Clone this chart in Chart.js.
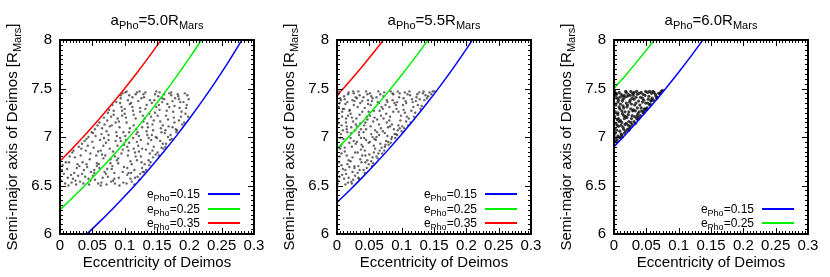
<!DOCTYPE html>
<html><head><meta charset="utf-8">
<script src="https://cdn.jsdelivr.net/npm/chart.js@4/dist/chart.umd.min.js"></script>
<style>
html,body{margin:0;padding:0;background:#fff;width:830px;height:277px;overflow:hidden;font-family:"Liberation Sans",Arial,sans-serif;color:#000}
.panel{position:absolute;top:0;width:277px;height:277px;overflow:visible}
.panel canvas{position:absolute;left:0;top:0}
.ptitle{position:absolute;left:60px;width:194px;top:11px;text-align:center;font-size:15px;line-height:17px;white-space:nowrap}
.sub{position:relative;top:4px;font-size:11px}
.ytitle{position:absolute;left:-118px;top:128px;width:260px;height:18px;line-height:18px;text-align:center;font-size:15px;transform:rotate(-90deg);white-space:nowrap}
.klab{position:absolute;left:100px;width:100px;text-align:right;font-size:12px;line-height:14px;height:14px;white-space:nowrap}
.klab .ks{position:relative;top:3px;font-size:9px}
.kline{position:absolute;left:208px;width:32px;height:2px}
</style>
</head><body>
<div class="panel" id="p1" style="left:0"></div>
<div class="panel" id="p2" style="left:277px"></div>
<div class="panel" id="p3" style="left:554px"></div>
<script>
// ---- axis ticks ----
const eccTicks = [0, 0.05, 0.1, 0.15, 0.2, 0.25, 0.3];
const eccTickLabels = ['0', '0.05', '0.1', '0.15', '0.2', '0.25', '0.3'];
const semiTicks = [6, 6.5, 7, 7.5, 8];
const semiTickLabels = ['6', '6.5', '7', '7.5', '8'];

// ---- panel titles / legend labels ----
const panelPhobosA = ['5.0', '5.5', '6.0'];
const legendEPho = ['0.15', '0.25', '0.35'];

// ---- Panel 1 (a_Pho = 5.0) scatter ----
const p1Ecc = [
0.002,0.004,0.006,0.008,0.003,0.009,
0.012,0.015,0.011,0.018,0.014,0.017,0.019,0.013,
0.021,0.024,0.027,0.022,0.029,0.025,0.023,0.028,0.026,0.020,
0.031,0.034,0.037,0.032,0.039,0.035,0.033,0.038,0.036,0.030,0.034,
0.041,0.044,0.047,0.042,0.049,0.045,0.043,0.048,0.046,0.040,0.044,0.047,0.041,
0.051,0.054,0.057,0.052,0.059,0.055,0.053,0.058,0.056,0.050,0.054,0.057,0.051,0.059,0.053,
0.061,0.064,0.067,0.062,0.069,0.065,0.063,0.068,0.066,0.060,0.064,0.067,0.061,0.069,0.063,0.065,0.068,
0.071,0.074,0.077,0.072,0.079,0.075,0.073,0.078,0.076,0.070,0.074,0.077,0.071,0.079,0.073,0.075,0.078,0.072,
0.081,0.084,0.087,0.082,0.089,0.085,0.083,0.088,0.086,0.080,0.084,0.087,0.081,0.089,0.083,0.085,0.088,0.082,0.086,0.080,
0.091,0.094,0.097,0.092,0.099,0.095,0.093,0.098,0.096,0.090,0.094,0.097,0.091,0.099,0.093,0.095,0.098,0.092,0.096,0.090,0.094,0.097,
0.101,0.104,0.107,0.102,0.109,0.105,0.103,0.108,0.106,0.100,0.104,0.107,0.101,0.109,0.103,0.105,0.108,0.102,0.106,0.100,0.104,0.107,0.103,
0.111,0.114,0.117,0.112,0.119,0.115,0.113,0.118,0.116,0.110,0.114,0.117,0.111,0.119,0.113,0.115,0.118,0.112,0.116,0.110,0.114,0.117,0.119,
0.121,0.124,0.127,0.122,0.129,0.125,0.123,0.128,0.126,0.120,0.124,0.127,0.121,0.129,0.123,0.125,0.128,0.122,0.126,0.120,0.124,0.127,
0.131,0.134,0.137,0.132,0.139,0.135,0.133,0.138,0.136,0.130,0.134,0.137,0.131,0.139,0.133,0.135,0.138,0.132,0.136,0.130,
0.141,0.144,0.147,0.142,0.149,0.145,0.143,0.148,0.146,0.140,0.144,0.147,0.141,0.149,0.143,0.145,0.148,0.142,
0.151,0.154,0.157,0.152,0.159,0.155,0.153,0.158,0.156,0.150,0.154,0.157,0.151,0.159,0.153,0.155,0.158,
0.161,0.164,0.167,0.162,0.169,0.165,0.163,0.168,0.166,0.160,0.164,0.167,0.161,0.169,0.163,
0.171,0.174,0.177,0.172,0.179,0.175,0.173,0.178,0.176,0.170,0.174,0.177,0.172,
0.181,0.184,0.187,0.182,0.189,0.185,0.183,0.188,0.186,0.180,0.184,
0.191,0.194,0.197,0.192,0.199,0.195,0.193,0.198,0.196
];
const p1Semi = [
6.55,6.71,6.62,6.52,6.66,6.74,
6.58,6.80,6.67,6.53,6.74,6.61,6.84,6.50,
6.86,6.55,6.72,6.63,6.90,6.51,6.79,6.60,6.68,6.57,
6.54,6.93,6.66,6.81,6.59,6.74,6.88,6.96,6.52,6.70,6.62,
6.98,6.57,6.83,6.69,7.05,6.51,6.91,6.64,6.77,6.86,7.00,6.55,6.72,
6.60,7.08,6.73,6.89,6.52,7.01,6.66,7.12,6.81,6.95,6.56,6.70,7.04,6.85,6.63,
7.15,6.53,6.78,6.97,6.64,7.09,6.86,7.20,6.58,6.72,7.03,6.91,6.68,7.13,6.50,6.82,6.99,
6.62,7.25,6.88,7.06,6.54,6.97,7.17,6.73,7.28,6.81,6.59,7.11,6.94,7.21,6.67,7.02,6.77,6.51,
7.33,6.63,7.05,6.85,7.19,6.52,7.27,6.76,6.96,7.12,6.57,7.36,6.70,6.91,7.23,6.80,7.01,6.55,7.15,6.67,
6.58,7.40,6.87,7.10,6.69,7.31,6.99,6.53,7.22,6.78,7.43,6.64,7.16,6.92,7.35,6.83,7.05,6.50,7.27,6.73,6.96,7.45,
7.46,6.61,6.94,7.20,6.75,7.38,6.52,7.09,6.86,7.29,6.68,7.43,7.01,6.57,7.15,6.81,7.34,6.97,6.63,7.24,6.90,7.05,7.47,
6.54,7.12,6.80,7.41,6.95,6.66,7.27,7.03,6.58,7.35,6.88,7.19,6.72,7.46,6.99,6.51,7.08,7.31,6.84,6.63,7.23,7.44,6.76,
7.37,6.62,7.10,6.85,7.44,6.97,6.56,7.22,6.74,7.05,7.30,6.68,6.91,7.16,7.47,6.80,6.64,7.01,7.40,6.59,7.26,6.88,
6.72,7.33,6.99,7.46,6.83,7.14,6.66,7.24,6.93,7.41,7.06,6.76,7.19,7.38,6.87,7.02,6.71,7.29,7.10,6.64,
7.21,6.79,7.44,7.02,7.31,6.90,7.13,6.82,7.38,6.74,7.07,7.25,6.97,7.47,6.86,7.17,7.00,7.35,
6.84,7.28,7.05,7.42,6.93,7.16,6.81,7.36,7.09,6.99,7.46,6.89,7.22,7.12,7.33,6.96,7.40,
7.39,6.93,7.18,7.04,7.45,7.27,6.90,7.11,7.34,6.88,7.22,7.00,7.44,7.31,7.07,
7.02,7.37,7.15,7.43,7.08,7.26,6.98,7.40,7.20,6.97,7.10,7.32,7.46,
7.07,7.39,7.21,7.44,7.13,7.30,7.42,7.26,7.36,7.05,7.17,
7.36,7.24,7.43,7.15,7.39,7.30,7.45,7.21,7.33
];

// ---- Panel 2 (a_Pho = 5.5) scatter ----
const p2Ecc = [
0.001,0.003,0.005,0.007,0.009,0.002,0.004,0.006,0.008,0.000,0.001,0.003,0.005,0.007,0.009,0.002,0.004,0.006,0.008,0.001,0.003,0.005,0.007,0.009,0.002,0.004,0.006,0.008,
0.011,0.013,0.015,0.017,0.019,0.012,0.014,0.016,0.018,0.010,0.011,0.013,0.015,0.017,0.019,0.012,0.014,0.016,0.018,0.011,0.013,0.015,0.017,0.019,0.012,0.014,0.016,0.018,
0.021,0.023,0.025,0.027,0.029,0.022,0.024,0.026,0.028,0.020,0.021,0.023,0.025,0.027,0.029,0.022,0.024,0.026,0.028,0.021,0.023,0.025,0.027,0.029,0.022,0.024,0.026,0.028,
0.031,0.033,0.035,0.037,0.039,0.032,0.034,0.036,0.038,0.030,0.031,0.033,0.035,0.037,0.039,0.032,0.034,0.036,0.038,0.031,0.033,0.035,0.037,0.039,0.032,0.034,0.036,
0.041,0.043,0.045,0.047,0.049,0.042,0.044,0.046,0.048,0.040,0.041,0.043,0.045,0.047,0.049,0.042,0.044,0.046,0.048,0.041,0.043,0.045,0.047,0.049,0.044,
0.051,0.053,0.055,0.057,0.059,0.052,0.054,0.056,0.058,0.050,0.051,0.053,0.055,0.057,0.059,0.052,0.054,0.056,0.058,0.051,0.053,0.055,0.057,
0.061,0.063,0.065,0.067,0.069,0.062,0.064,0.066,0.068,0.060,0.061,0.063,0.065,0.067,0.069,0.062,0.064,0.066,0.068,0.061,0.065,
0.071,0.073,0.075,0.077,0.079,0.072,0.074,0.076,0.078,0.070,0.071,0.073,0.075,0.077,0.079,0.072,0.074,0.076,0.078,
0.081,0.083,0.085,0.087,0.089,0.082,0.084,0.086,0.088,0.080,0.081,0.083,0.085,0.087,0.089,0.082,0.086,
0.091,0.093,0.095,0.097,0.099,0.092,0.094,0.096,0.098,0.090,0.091,0.093,0.095,0.097,0.094,
0.101,0.103,0.105,0.107,0.109,0.102,0.104,0.106,0.108,0.100,0.103,0.105,0.107,
0.111,0.113,0.115,0.117,0.119,0.112,0.114,0.116,0.118,0.110,
0.121,0.123,0.125,0.127,0.129,0.122,0.124,0.128,
0.131,0.133,0.135,0.137,0.139,0.134,
0.141,0.143,0.146,0.148,
0.151
];
const p2Semi = [
6.52,7.31,6.88,7.12,6.67,7.44,6.59,7.03,7.26,6.95,7.18,6.74,7.40,6.83,7.07,6.55,7.35,6.91,7.21,6.63,7.47,6.99,6.71,7.29,7.14,6.80,7.38,6.61,
7.42,6.66,7.08,6.53,7.27,6.89,7.15,6.72,7.46,6.98,6.57,7.34,6.81,7.22,6.94,7.39,6.62,7.05,6.76,7.29,6.51,7.11,7.44,6.69,6.85,7.19,7.36,6.58,
6.75,7.20,6.56,7.37,6.93,7.10,6.64,7.45,6.84,7.28,6.99,6.52,7.16,6.70,7.41,7.04,6.79,7.33,6.60,7.24,6.90,7.47,6.68,7.13,6.54,7.38,6.96,7.07,
7.11,6.58,7.43,6.87,7.26,6.63,7.02,7.35,6.74,7.19,6.95,7.47,6.66,7.08,6.81,7.31,6.57,7.14,6.92,7.40,6.70,7.23,6.99,7.37,6.84,7.05,6.77,
6.66,7.30,6.97,7.44,6.72,7.12,6.81,7.21,7.38,6.90,7.05,6.63,7.47,6.76,7.26,6.99,7.15,6.68,7.34,7.41,6.86,7.08,7.18,6.94,6.74,
7.22,6.75,7.40,6.91,7.07,7.33,6.70,7.16,6.98,6.82,7.45,7.03,6.79,7.27,6.88,7.11,7.37,6.73,7.20,6.95,7.42,7.00,6.84,
6.80,7.36,7.02,7.44,6.89,7.18,6.83,7.27,7.09,6.97,7.41,6.78,7.13,6.93,7.31,7.05,7.47,6.86,7.22,7.00,7.35,
7.06,6.86,7.33,7.15,6.95,7.42,6.90,7.24,7.01,6.83,7.29,7.46,6.92,7.38,7.10,7.19,7.04,6.96,7.36,
7.31,6.94,7.13,7.44,7.03,7.21,6.98,7.38,7.08,6.92,7.17,7.47,7.00,7.26,7.35,7.11,7.45,
7.03,7.36,7.12,7.45,7.22,7.29,7.07,7.41,7.17,6.99,7.33,7.02,7.26,7.09,7.47,
7.11,7.40,7.25,7.16,7.44,7.33,7.09,7.37,7.21,7.06,7.28,7.46,7.35,
7.19,7.43,7.27,7.36,7.21,7.47,7.15,7.39,7.31,7.12,
7.25,7.41,7.33,7.46,7.29,7.37,7.44,7.39,
7.32,7.45,7.38,7.43,7.40,7.47,
7.42,7.46,7.44,7.47,
7.47
];

// ---- Panel 3 (a_Pho = 6.0) scatter ----
const p3Ecc = [
0.001,0.004,0.007,0.002,0.009,0.005,0.000,0.008,0.003,0.006,0.002,0.005,0.008,0.001,0.006,0.009,0.004,0.000,0.007,0.003,0.001,0.006,0.003,0.008,0.005,0.002,0.009,0.004,0.007,0.000,0.003,0.006,0.001,0.008,0.005,
0.011,0.014,0.017,0.012,0.019,0.015,0.010,0.018,0.013,0.016,0.012,0.015,0.018,0.011,0.016,0.019,0.014,0.010,0.017,0.013,0.011,0.016,0.013,0.018,0.015,0.012,0.019,0.014,0.017,0.010,0.013,
0.021,0.024,0.027,0.022,0.029,0.025,0.020,0.028,0.023,0.026,0.022,0.025,0.028,0.021,0.026,0.029,0.024,0.020,0.027,0.023,0.021,0.026,0.023,0.028,0.025,0.022,
0.031,0.034,0.037,0.032,0.039,0.035,0.030,0.038,0.033,0.036,0.032,0.035,0.038,0.031,0.036,0.039,0.034,0.030,0.037,0.033,0.031,0.036,
0.041,0.044,0.047,0.042,0.049,0.045,0.040,0.048,0.043,0.046,0.042,0.045,0.048,0.041,0.046,0.049,0.044,
0.051,0.054,0.057,0.052,0.059,0.055,0.050,0.058,0.053,0.056,0.052,0.055,0.058,
0.061,0.064,0.067,0.062,0.069,0.065,0.060,0.066,
0.071,0.073,0.075
];
const p3Semi = [
7.21,6.95,7.38,7.04,7.29,7.12,6.92,7.46,7.33,7.01,7.42,6.97,7.16,7.09,7.25,7.06,7.44,7.35,7.19,6.99,7.47,7.36,7.14,7.00,7.40,7.26,7.41,7.07,7.11,7.02,7.45,7.23,6.96,7.31,7.18,
7.03,7.39,7.13,7.27,7.46,7.08,7.34,7.21,7.00,7.43,7.15,7.30,7.06,7.44,7.19,7.35,7.10,6.99,7.41,7.24,7.12,7.04,7.37,7.47,7.22,7.02,7.14,7.32,7.26,7.17,7.42,
7.08,7.36,7.19,7.44,7.27,7.11,7.31,7.40,7.16,7.47,7.23,7.38,7.13,7.42,7.29,7.45,7.09,7.20,7.34,7.07,7.33,7.15,7.26,7.22,7.43,7.12,
7.16,7.41,7.24,7.33,7.45,7.19,7.28,7.37,7.14,7.44,7.21,7.47,7.20,7.39,7.30,7.26,7.35,7.43,7.18,7.27,7.46,7.22,
7.22,7.40,7.29,7.46,7.35,7.25,7.33,7.43,7.27,7.38,7.30,7.44,7.28,7.41,7.26,7.47,7.36,
7.30,7.42,7.37,7.46,7.40,7.33,7.29,7.45,7.39,7.34,7.35,7.47,7.38,
7.38,7.44,7.41,7.46,7.45,7.42,7.47,7.40,
7.45,7.47,7.48
];

// ---- boundary curves (e_Deimos, a_Deimos) ----
const p1BlueE = [0.04,0.06,0.08,0.10,0.12,0.14,0.16,0.18,0.20,0.22,0.24,0.26,0.28,0.29];
const p1BlueA = [5.990,6.117,6.250,6.389,6.534,6.686,6.845,7.012,7.188,7.372,7.566,7.770,7.986,8.099];
const p1GreenE = [0,0.02,0.04,0.06,0.08,0.10,0.12,0.14,0.16,0.18,0.20,0.22];
const p1GreenA = [6.250,6.378,6.510,6.649,6.793,6.944,7.102,7.267,7.440,7.622,7.813,8.013];
const p1RedE = [0,0.02,0.04,0.06,0.08,0.10,0.12,0.14,0.16];
const p1RedA = [6.750,6.888,7.031,7.181,7.337,7.500,7.670,7.849,8.036];

const p2BlueE = [0,0.02,0.04,0.06,0.08,0.10,0.12,0.14,0.16,0.18,0.20,0.21];
const p2BlueA = [6.325,6.454,6.589,6.729,6.875,7.028,7.188,7.355,7.530,7.713,7.906,8.006];
const p2GreenE = [0,0.02,0.04,0.06,0.08,0.10,0.12,0.14,0.15];
const p2GreenA = [6.875,7.015,7.161,7.314,7.473,7.639,7.813,7.994,8.088];
const p2RedE = [0,0.02,0.04,0.06,0.07,0.08];
const p2RedA = [7.425,7.577,7.734,7.899,7.984,8.071];

const p3BlueE = [0,0.02,0.04,0.06,0.08,0.10,0.12,0.14];
const p3BlueA = [6.900,7.041,7.188,7.340,7.500,7.667,7.841,8.023];
const p3GreenE = [0,0.02,0.04,0.06,0.07];
const p3GreenA = [7.500,7.653,7.813,7.979,8.065];

const BLUE = '#0000ff', GREEN = '#00ee00', RED = '#ff0000';
const FONT = '"Liberation Sans", Arial, sans-serif';

const framePlugin = {
  id: 'frame',
  afterDatasetsDraw(chart) {
    const {ctx, chartArea: ca, scales} = chart;
    const x = scales.x, y = scales.y;
    ctx.save();
    ctx.strokeStyle = '#000';
    ctx.lineWidth = 1;
    ctx.beginPath();
    for (let i = 0; i <= 60; i++) {
      const px = Math.round(x.getPixelForValue(i * 0.005)) + 0.5;
      const len = (i % 10 === 0) ? 6 : 3;
      ctx.moveTo(px, ca.bottom); ctx.lineTo(px, ca.bottom - len);
      ctx.moveTo(px, ca.top); ctx.lineTo(px, ca.top + len);
    }
    for (let i = 0; i <= 40; i++) {
      const py = Math.round(y.getPixelForValue(6 + i * 0.05)) + 0.5;
      const len = (i % 10 === 0) ? 6 : 3;
      ctx.moveTo(ca.left, py); ctx.lineTo(ca.left + len, py);
      ctx.moveTo(ca.right, py); ctx.lineTo(ca.right - len, py);
    }
    ctx.stroke();
    ctx.lineWidth = 2;
    ctx.strokeRect(ca.left, ca.top, ca.right - ca.left, ca.bottom - ca.top);
    ctx.restore();
  }
};

function pairs(xs, ys) { return xs.map((v, i) => ({x: v, y: ys[i]})); }

function makePanel(id, idx, ecc, semi, curves, ptRadius, ptColor) {
  const host = document.getElementById(id);
  const cv = document.createElement('canvas');
  cv.width = 277; cv.height = 277;
  cv.style.width = '277px'; cv.style.height = '277px';
  host.appendChild(cv);

  const t = document.createElement('div');
  t.className = 'ptitle';
  t.innerHTML = 'a<span class="sub">Pho</span>=' + panelPhobosA[idx] + 'R<span class="sub">Mars</span>';
  host.appendChild(t);
  const yt = document.createElement('div');
  yt.className = 'ytitle';
  yt.innerHTML = 'Semi-major axis of Deimos [R<span class="sub">Mars</span>]';
  host.appendChild(yt);

  const rowY = [194, 209, 223];
  const firstRow = 3 - curves.length;
  curves.forEach((c, k) => {
    const ry = rowY[firstRow + k];
    const lab = document.createElement('div');
    lab.className = 'klab';
    lab.style.top = (ry - 7) + 'px';
    lab.innerHTML = 'e<span class="ks">Pho</span>=' + c.label;
    host.appendChild(lab);
    const ln = document.createElement('div');
    ln.className = 'kline';
    ln.style.top = (ry - 1) + 'px';
    ln.style.background = c.color;
    host.appendChild(ln);
  });

  const datasets = curves.map(c => ({
    data: pairs(c.e, c.a), showLine: true, borderColor: c.color, borderWidth: 1.5,
    pointRadius: 0, cubicInterpolationMode: 'monotone', fill: false, order: 0
  }));
  datasets.push({
    data: pairs(ecc, semi), showLine: false, pointRadius: ptRadius, pointHoverRadius: ptRadius,
    backgroundColor: ptColor, borderWidth: 0, order: 1
  });

  new Chart(cv, {
    type: 'scatter',
    data: {datasets},
    options: {
      responsive: false, animation: false, devicePixelRatio: 1,
      layout: {padding: {top: 40, right: 23, left: 0, bottom: 0}},
      plugins: {legend: {display: false}, tooltip: {enabled: false}},
      events: [],
      scales: {
        x: {
          type: 'linear', min: 0, max: 0.3,
          grid: {display: false, drawTicks: false}, border: {display: false},
          afterBuildTicks: s => { s.ticks = eccTicks.map(v => ({value: v})); },
          afterFit: s => { s.height = 43; },
          ticks: {
            padding: 3, maxRotation: 0, autoSkip: false, color: '#000',
            font: {family: FONT, size: 15},
            callback: (v, i) => eccTickLabels[i]
          },
          title: {display: true, text: 'Eccentricity of Deimos', color: '#000',
            font: {family: FONT, size: 15}, padding: {top: 0, bottom: 5}}
        },
        y: {
          type: 'linear', min: 6, max: 8,
          grid: {display: false, drawTicks: false}, border: {display: false},
          afterBuildTicks: s => { s.ticks = semiTicks.map(v => ({value: v})); },
          afterFit: s => { s.width = 60; },
          ticks: {
            padding: 8, color: '#000', font: {family: FONT, size: 15},
            callback: (v, i) => semiTickLabels[i]
          }
        }
      }
    },
    plugins: [framePlugin]
  });
}

makePanel('p1', 0, p1Ecc, p1Semi, [
  {e: p1BlueE, a: p1BlueA, color: BLUE, label: legendEPho[0]},
  {e: p1GreenE, a: p1GreenA, color: GREEN, label: legendEPho[1]},
  {e: p1RedE, a: p1RedA, color: RED, label: legendEPho[2]}
], 1.2, 'rgba(35,35,35,0.7)');
makePanel('p2', 1, p2Ecc, p2Semi, [
  {e: p2BlueE, a: p2BlueA, color: BLUE, label: legendEPho[0]},
  {e: p2GreenE, a: p2GreenA, color: GREEN, label: legendEPho[1]},
  {e: p2RedE, a: p2RedA, color: RED, label: legendEPho[2]}
], 1.2, 'rgba(35,35,35,0.7)');
makePanel('p3', 2, p3Ecc, p3Semi, [
  {e: p3BlueE, a: p3BlueA, color: BLUE, label: legendEPho[0]},
  {e: p3GreenE, a: p3GreenA, color: GREEN, label: legendEPho[1]}
], 1.6, 'rgba(10,10,10,0.8)');
</script>
</body></html>
